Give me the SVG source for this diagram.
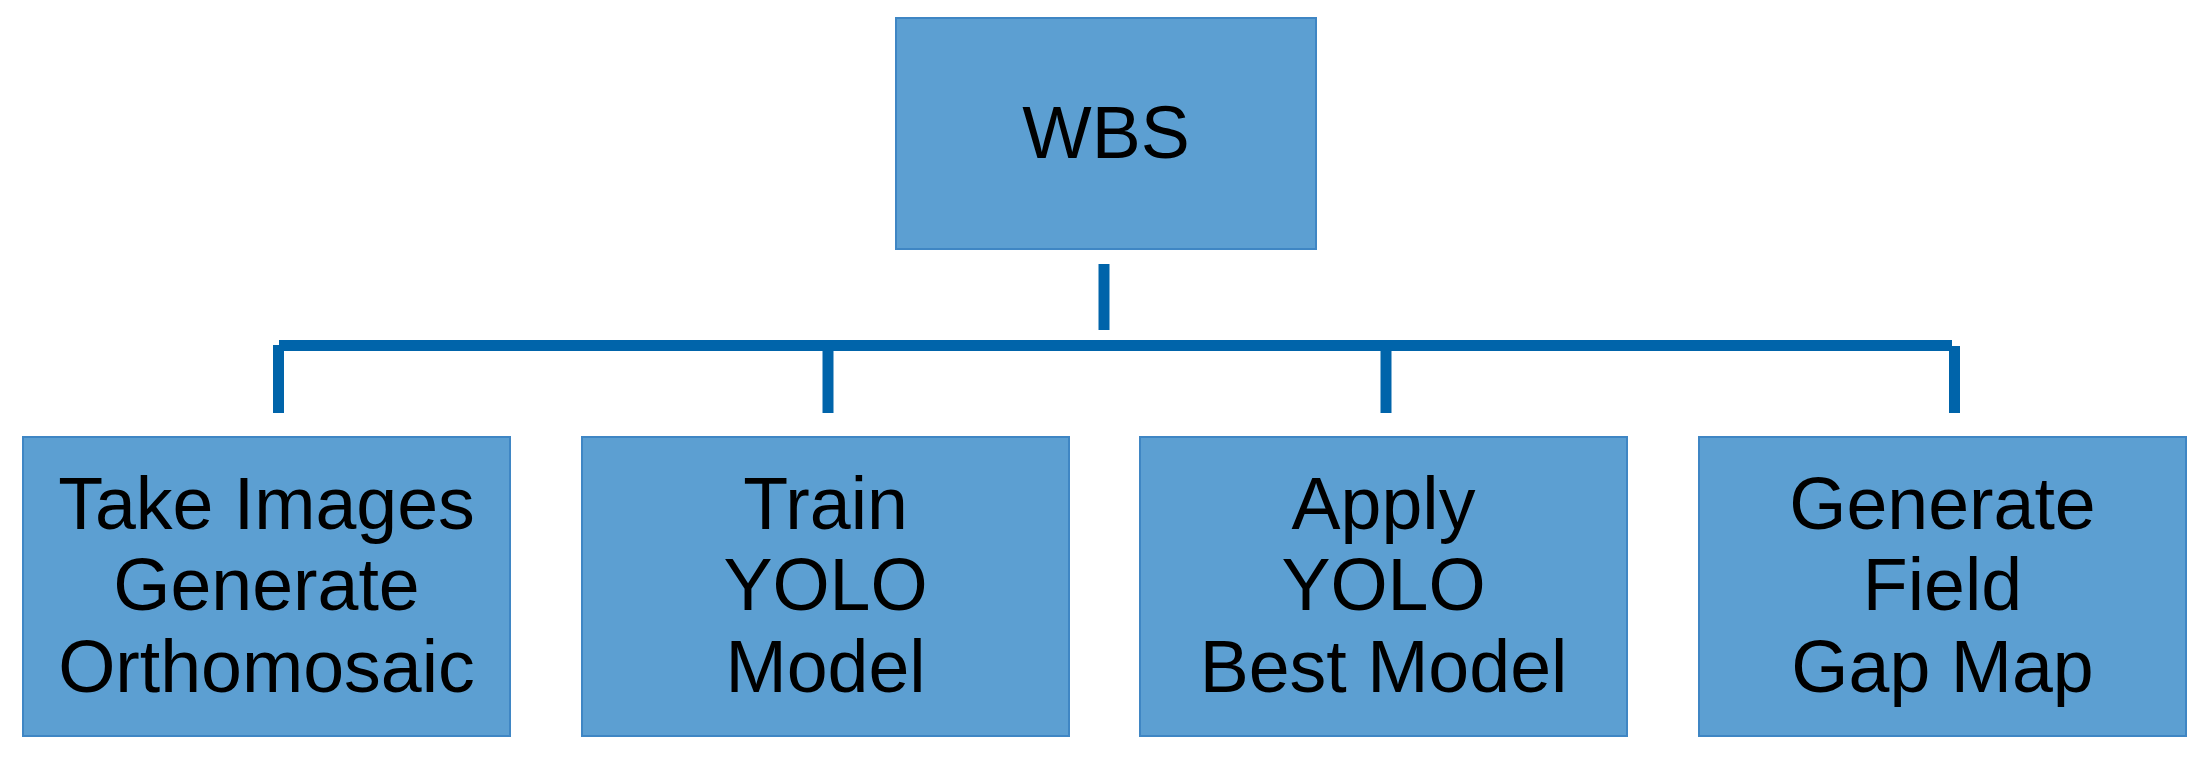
<svg xmlns="http://www.w3.org/2000/svg" width="2205" height="759" viewBox="0 0 2205 759">
<style>
.box{fill:#5c9fd2;stroke:#3f86c4;stroke-width:2}
.lbl{font-family:"Liberation Sans",Arial,sans-serif;font-size:73.5px;fill:#000;text-anchor:middle}
.con{stroke:#0064aa;stroke-width:11;fill:none;stroke-linecap:butt}
</style>
<rect width="2205" height="759" fill="#fff"/>
<g id="connectors">
<line class="con" x1="1104" y1="264" x2="1104" y2="330"/>
<line class="con" x1="279" y1="345.5" x2="1952" y2="345.5"/>
<line class="con" x1="278.5" y1="345" x2="278.5" y2="413"/>
<line class="con" x1="828" y1="345" x2="828" y2="413"/>
<line class="con" x1="1386" y1="345" x2="1386" y2="413"/>
<line class="con" x1="1954.5" y1="346" x2="1954.5" y2="413"/>
</g>
<g id="wbs">
<rect class="box" x="896" y="18" width="420" height="231"/>
<text class="lbl" x="1106" y="158">WBS</text>
</g>
<g id="take-images">
<rect class="box" x="23" y="437" width="487" height="299"/>
<text class="lbl" x="266.5" y="529">Take Images</text>
<text class="lbl" x="266.5" y="610">Generate</text>
<text class="lbl" x="266.5" y="692">Orthomosaic</text>
</g>
<g id="train-yolo">
<rect class="box" x="582" y="437" width="487" height="299"/>
<text class="lbl" x="825.5" y="529">Train</text>
<text class="lbl" x="825.5" y="610">YOLO</text>
<text class="lbl" x="825.5" y="692">Model</text>
</g>
<g id="apply-yolo">
<rect class="box" x="1140" y="437" width="487" height="299"/>
<text class="lbl" x="1383.5" y="529">Apply</text>
<text class="lbl" x="1383.5" y="610">YOLO</text>
<text class="lbl" x="1383.5" y="692">Best Model</text>
</g>
<g id="gap-map">
<rect class="box" x="1699" y="437" width="487" height="299"/>
<text class="lbl" x="1942.5" y="529">Generate</text>
<text class="lbl" x="1942.5" y="610">Field</text>
<text class="lbl" x="1942.5" y="692">Gap Map</text>
</g>
</svg>
